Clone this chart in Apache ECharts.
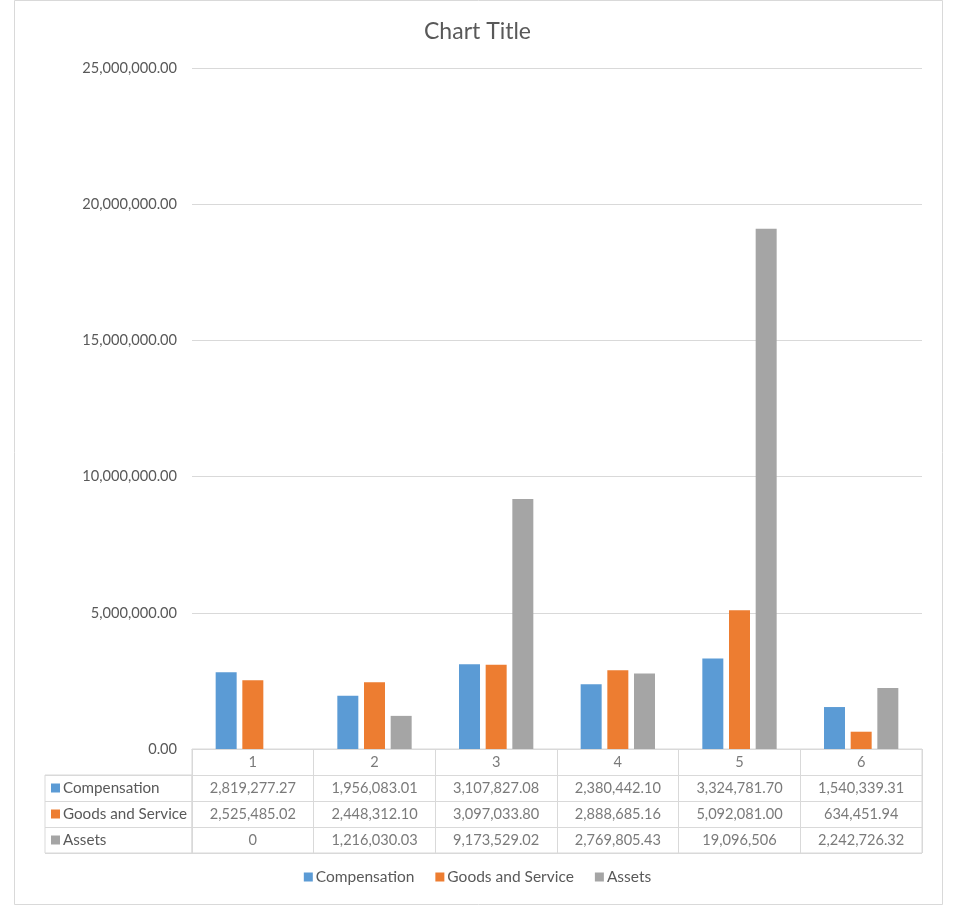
<!DOCTYPE html>
<html>
<head>
<meta charset="utf-8">
<script src="https://cdn.jsdelivr.net/npm/echarts@6/dist/echarts.min.js"></script>
<style>
  html, body { margin: 0; padding: 0; background: #fff; }
  #chart { width: 955px; height: 907px; }
</style>
</head>
<body>
<div id="chart"></div>
<script>
var categories = ['1', '2', '3', '4', '5', '6'];
var seriesNames = ['Compensation', 'Goods and Service', 'Assets'];
var compensation = [2819277.27, 1956083.01, 3107827.08, 2380442.10, 3324781.70, 1540339.31];
var goodsAndService = [2525485.02, 2448312.10, 3097033.80, 2888685.16, 5092081.00, 634451.94];
var assets = [0, 1216030.03, 9173529.02, 2769805.43, 19096506, 2242726.32];
// cells the table shows without decimals [row, col]
var plainCells = [[2, 0], [2, 4]];
var colors = ['#5b9bd5', '#ed7d31', '#a5a5a5'];

var FONT = 'Lato';
var TXT = '#595959';
var LINE = '#d9d9d9';

function fmt(v, decimals) {
	var s = v.toFixed(decimals);
	var parts = s.split('.');
	parts[0] = parts[0].replace(/\B(?=(\d{3})+(?!\d))/g, ',');
	return parts.join('.');
}

var values = [compensation, goodsAndService, assets];

// table cell labels
var cellData = [];
for (var c = 0; c < categories.length; c++) {
	cellData.push([c, 0, categories[c]]);
}
for (var r = 0; r < values.length; r++) {
	for (var c = 0; c < categories.length; c++) {
		var plain = plainCells.some(function(p) { return p[0] === r && p[1] === c; });
		cellData.push([c, r + 1, fmt(values[r][c], plain ? 0 : 2)]);
	}
}

var rich = { t: { color: TXT, fontSize: 15.2, fontFamily: FONT, padding: [0, 0, 0, 3] } };
seriesNames.forEach(function(n, i) {
	rich['s' + i] = { width: 9, height: 9, backgroundColor: colors[i] };
});

var barSeries = seriesNames.map(function(n, i) {
	return {
		name: n,
		type: 'bar',
		xAxisIndex: 0,
		yAxisIndex: 0,
		data: values[i],
		barWidth: 21,
		barGap: '27%',
		itemStyle: { color: colors[i] }
	};
});

var option = {
	backgroundColor: '#fff',
	animation: false,
	textStyle: { fontFamily: FONT },
	title: {
		text: 'Chart Title',
		left: 'center',
		top: 15,
		textStyle: { color: TXT, fontSize: 23, fontWeight: 'normal', fontFamily: FONT }
	},
	graphic: [{
		type: 'rect',
		shape: { x: 14.5, y: 0.5, width: 928, height: 904 },
		style: { fill: 'none', stroke: LINE, lineWidth: 1 },
		silent: true,
		z: -10
	}],
	legend: {
		data: seriesNames,
		bottom: 17,
		left: 'center',
		itemWidth: 9,
		itemHeight: 9,
		itemGap: 21,
		icon: 'rect',
		textStyle: { color: TXT, fontSize: 15.5, fontFamily: FONT, padding: [0, 0, 0, -2] }
	},
	grid: [{
		left: 192, top: 68, width: 730, height: 681
	}, {
		left: 192, top: 749, width: 730, height: 104,
		show: true, borderColor: LINE, borderWidth: 1, backgroundColor: 'transparent'
	}, {
		left: 45, top: 775, width: 147, height: 78,
		show: true, borderColor: LINE, borderWidth: 1, backgroundColor: 'transparent'
	}],
	xAxis: [{
		type: 'category',
		gridIndex: 0,
		data: categories,
		axisLine: { show: true, lineStyle: { color: LINE } },
		axisTick: { show: false },
		axisLabel: { show: false }
	}, {
		type: 'category',
		gridIndex: 1,
		data: categories,
		axisLine: { show: false },
		axisTick: { show: false },
		axisLabel: { show: false },
		splitLine: { show: true, interval: 0, lineStyle: { color: LINE } }
	}, {
		type: 'category',
		gridIndex: 2,
		data: [''],
		axisLine: { show: false },
		axisTick: { show: false },
		axisLabel: { show: false }
	}],
	yAxis: [{
		type: 'value',
		gridIndex: 0,
		min: 0,
		max: 25000000,
		interval: 5000000,
		axisLine: { show: false },
		axisTick: { show: false },
		axisLabel: {
			color: TXT, fontSize: 14.6, fontFamily: FONT, margin: 15,
			formatter: function(v) { return fmt(v, 2); }
		},
		splitLine: { lineStyle: { color: LINE } }
	}, {
		type: 'category',
		gridIndex: 1,
		inverse: true,
		data: ['', 'r1', 'r2', 'r3'],
		axisLine: { show: false },
		axisTick: { show: false },
		axisLabel: { show: false },
		splitLine: { show: true, interval: 0, lineStyle: { color: LINE } }
	}, {
		type: 'category',
		gridIndex: 2,
		inverse: true,
		data: seriesNames,
		axisLine: { show: false },
		axisTick: { show: false },
		splitLine: { show: true, interval: 0, lineStyle: { color: LINE } },
		axisLabel: {
			inside: true,
			margin: 6,
			align: 'left',
			formatter: function(v, i) { return '{s' + i + '|}{t|' + v + '}'; },
			rich: rich
		}
	}],
	series: barSeries.concat([{
		type: 'scatter',
		xAxisIndex: 1,
		yAxisIndex: 1,
		symbolSize: 1,
		itemStyle: { color: 'rgba(0,0,0,0)' },
		silent: true,
		data: cellData,
		label: {
			show: true,
			position: 'inside',
			color: TXT,
			fontSize: 14.6,
			fontFamily: FONT,
			formatter: function(p) { return p.value[2]; }
		}
	}])
};

var dom = document.getElementById('chart');
var myChart = echarts.init(dom);
myChart.setOption(option, true);
</script>
</body>
</html>
